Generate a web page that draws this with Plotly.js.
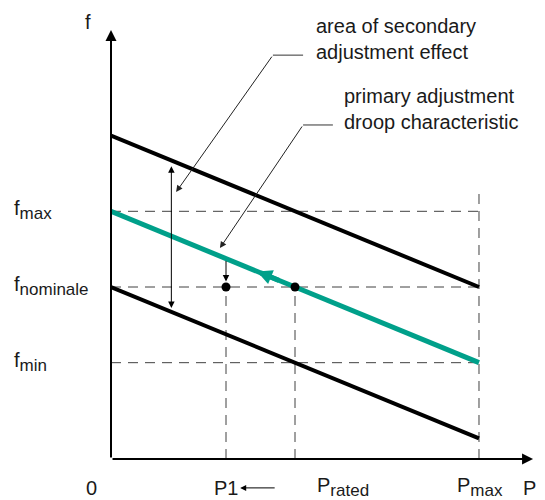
<!DOCTYPE html>
<html>
<head>
<meta charset="utf-8">
<script src="https://cdn.plot.ly/plotly-3.0.1.min.js"></script>
<style>html,body{margin:0;padding:0;background:#fff;}#chart{width:545px;height:500px;}</style>
</head>
<body>
<div id="chart"></div>
<script>
// ---- data (P in % of Pmax, f in arbitrary units) ----
const lineP      = [0, 100];          // P range of droop characteristics
const upperF     = [94, 50];          // upper characteristic (secondary adj.)
const primaryF   = [72, 28];          // primary droop characteristic
const lowerF     = [50, 6];           // lower characteristic
const fLevels    = [72, 50, 28];      // fmax, fnominale, fmin
const fLabels    = ['f<sub><span style="font-size:17px">max</span></sub>',
                    'f<sub><span style="font-size:17px">nominale</span></sub>',
                    'f<sub><span style="font-size:17px">min</span></sub>'];
const pMarks     = [31.25, 50, 100];  // P1, Prated, Pmax
const pLabels    = ['P1', 'P<sub><span style="font-size:17px">rated</span></sub>',
                    'P<sub><span style="font-size:17px">max</span></sub>'];
const pGuideTop  = [50, 50, 78];      // top of vertical guides
const dotP       = [31.25, 50];
const dotF       = [50, 50];
const axisEnd    = [114.7, 124.7];    // arrow tips of P and f axes

const xRange = [0, 116.85], yRange = [0, 130.52];
const black = '#000000';
const green = '#00a08a';
const dashC = '#404040';
const font = {family: 'Arial, "Liberation Sans", sans-serif', size: 20, color: '#1a1a1a'};

const traces = [];
// dashed guides
fLevels.forEach(f => traces.push({x: [0, pMarks[2]], y: [f, f], mode: 'lines',
  line: {color: dashC, width: 1, dash: '10px,7px'}, hoverinfo: 'skip', showlegend: false}));
pMarks.forEach((p, i) => traces.push({x: [p, p], y: [0, pGuideTop[i]], mode: 'lines',
  line: {color: dashC, width: 1, dash: '10px,7px'}, hoverinfo: 'skip', showlegend: false}));
// characteristics
traces.push({x: lineP, y: upperF, mode: 'lines', line: {color: black, width: 4}, hoverinfo: 'skip', showlegend: false});
traces.push({x: lineP, y: lowerF, mode: 'lines', line: {color: black, width: 4}, hoverinfo: 'skip', showlegend: false});
traces.push({x: lineP, y: primaryF, mode: 'lines', line: {color: green, width: 5}, hoverinfo: 'skip', showlegend: false});
// leader horizontal segments
traces.push({x: [44, 52.2], y: [117.4, 117.4], mode: 'lines', line: {color: '#333', width: 1}, hoverinfo: 'skip', showlegend: false});
traces.push({x: [52.2, 60.3], y: [97.1, 97.1], mode: 'lines', line: {color: '#333', width: 1}, hoverinfo: 'skip', showlegend: false});
// dots
traces.push({x: dotP, y: dotF, mode: 'markers', marker: {color: black, size: 9}, hoverinfo: 'skip', showlegend: false});

function arrow(x0, y0, x1, y1, opts) {
  return Object.assign({x: x1, y: y1, ax: x0, ay: y0, xref: 'x', yref: 'y', axref: 'x', ayref: 'y',
    text: '', showarrow: true, arrowhead: 2, arrowsize: 1.3, arrowwidth: 1, arrowcolor: black,
    standoff: 0, startstandoff: 0}, opts || {});
}
// labels placed in paper coords (converted from data units) so they may sit outside the axes
function label(x, y, text, xanchor, extra) {
  return Object.assign({x: x / xRange[1], y: y / yRange[1], xref: 'paper', yref: 'paper', text: text,
    showarrow: false, xanchor: xanchor || 'center', yanchor: 'middle', font: font, align: 'left',
    borderpad: 0}, extra || {});
}

const ann = [];
// axes
ann.push(arrow(0, 0, 0, axisEnd[1], {arrowwidth: 2, arrowsize: 1.1}));
ann.push(arrow(0, 0, axisEnd[0], 0, {arrowwidth: 2, arrowsize: 1.1}));
// secondary band double arrow
ann.push(arrow(16.4, 85.5, 16.4, 43.9, {arrowside: 'end+start'}));
// leader arrows
ann.push(arrow(44, 117.4, 17.7, 77.6, {arrowcolor: '#222'}));
ann.push(arrow(52.2, 97.1, 29.6, 61.3, {arrowcolor: '#222'}));
// small arrow to P1 point
ann.push(arrow(31.25, 58, 31.25, 51.6));
// arrow on the green line
ann.push(arrow(46, primaryF[0] - 0.44 * 46, 39.7, primaryF[0] - 0.44 * 39.7,
  {arrowcolor: green, arrowwidth: 5, arrowsize: 0.6}));
// P1 arrow in label row (paper position, pixel tail)
ann.push({x: 35.1 / xRange[1], y: -8.4 / yRange[1], xref: 'paper', yref: 'paper', ax: 36, ay: 0,
  text: '', showarrow: true, arrowhead: 2, arrowsize: 1.2, arrowwidth: 1, arrowcolor: black,
  standoff: 0, startstandoff: 0});

// labels
ann.push(label(-6.25, 126.9, 'f'));
ann.push(label(-5.2, -8.4, '0'));
ann.push(label(pMarks[0], -8.4, pLabels[0]));
ann.push(label(55.7, -8.1, pLabels[1], 'left'));
ann.push(label(93.75, -8.1, pLabels[2], 'left'));
ann.push(label(111.7, -8.4, 'P', 'left'));
fLevels.forEach((f, i) => ann.push(label(-26.6, f + 0.3, fLabels[i], 'left')));
ann.push(label(55.4, 122.2, 'area of secondary<br>adjustment effect', 'left'));
ann.push(label(63.0, 101.7, 'primary adjustment<br>droop characteristic', 'left'));

const layout = {
  width: 545, height: 500,
  margin: {l: 111, r: 4, t: 10, b: 41},
  paper_bgcolor: '#fff', plot_bgcolor: '#fff',
  xaxis: {range: xRange, visible: false, fixedrange: true},
  yaxis: {range: yRange, visible: false, fixedrange: true},
  showlegend: false,
  annotations: ann,
  font: font
};
Plotly.newPlot('chart', traces, layout, {displayModeBar: false, staticPlot: true});
</script>
</body>
</html>
